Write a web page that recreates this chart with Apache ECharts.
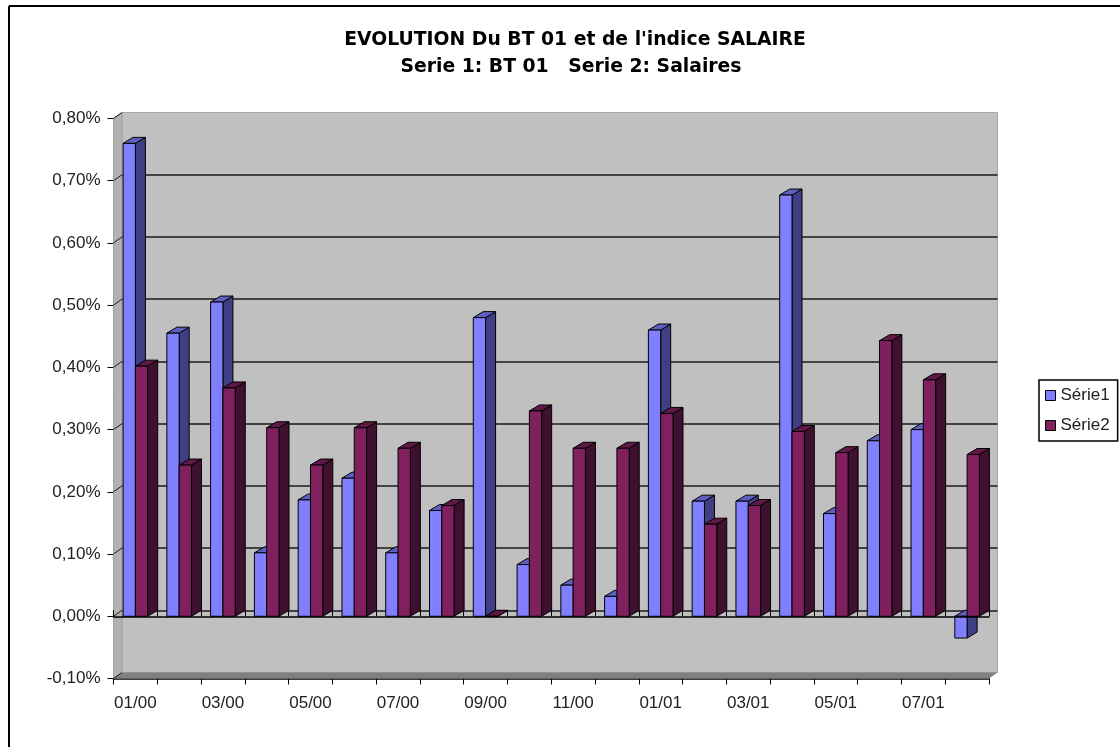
<!DOCTYPE html>
<html>
<head>
<meta charset="utf-8">
<style>
  html, body { margin: 0; padding: 0; background: #fff; }
  #chart { width: 1120px; height: 747px; }
</style>
<script src="https://cdn.jsdelivr.net/npm/echarts@6/dist/echarts.min.js"></script>
</head>
<body>
<div id="chart"></div>
<script>
const months = ['01/00', '02/00', '03/00', '04/00', '05/00', '06/00', '07/00', '08/00', '09/00', '10/00',
  '11/00', '12/00', '01/01', '02/01', '03/01', '04/01', '05/01', '06/01', '07/01', '08/01']
const serie1 = [0.76, 0.455, 0.505, 0.102, 0.187, 0.222, 0.102, 0.17, 0.48, 0.083,
  0.05, 0.032, 0.46, 0.185, 0.185, 0.677, 0.165, 0.282, 0.30, -0.035]
const serie2 = [0.402, 0.243, 0.367, 0.303, 0.243, 0.303, 0.27, 0.178, 0, 0.33,
  0.27, 0.27, 0.326, 0.148, 0.178, 0.297, 0.263, 0.443, 0.38, 0.26]
const yTicks = [-0.1, 0, 0.1, 0.2, 0.3, 0.4, 0.5, 0.6, 0.7, 0.8]

const FONT = '"Liberation Sans", Arial, sans-serif'
const TITLE_FONT = '"DejaVu Sans", "Liberation Sans", sans-serif'
const TEXT = '#222'
const wallDx = 8.5
const wallDy = -6
const barDx = 10
const barDy = -6
const barW = 12.3

const fmtPct = (v) => v.toFixed(2).replace('.', ',') + '%'

// one bar = front + side + top, all hung off the axis scales
const bar3d = (colors, side) => (params, api) => {
  const center = api.coord([api.value(0), 0])[0]
  const y0 = api.coord([api.value(0), 0])[1]
  const y1 = api.coord([api.value(0), api.value(1)])[1]
  const x0 = side < 0 ? center - barW : center
  const x1 = x0 + barW
  const top = Math.min(y0, y1)
  const bottom = Math.max(y0, y1)
  const line = { stroke: '#000', lineWidth: 1 }
  return {
    type: 'group',
    children: [
      {
        type: 'polygon',
        shape: { points: [[x1, top], [x1 + barDx, top + barDy], [x1 + barDx, bottom + barDy], [x1, bottom]] },
        style: { fill: colors.side, ...line }
      },
      {
        type: 'polygon',
        shape: { points: [[x0, top], [x0 + barDx, top + barDy], [x1 + barDx, top + barDy], [x1, top]] },
        style: { fill: colors.top, ...line }
      },
      {
        type: 'rect',
        shape: { x: x0, y: top, width: barW, height: bottom - top },
        style: { fill: colors.front, ...line }
      }
    ]
  }
}

const blue = { front: '#8080ff', side: '#3f3f86', top: '#5f5fc0' }
const maroon = { front: '#80205f', side: '#401030', top: '#5f1848' }

const chart = echarts.init(document.getElementById('chart'), null, { renderer: 'canvas' })
chart.setOption({
  animation: false,
  backgroundColor: '#fff',
  title: [
    {
      text: "EVOLUTION Du BT 01 et de l'indice SALAIRE",
      left: 570, top: 26, textAlign: 'center',
      textStyle: { fontFamily: TITLE_FONT, fontSize: 18.8, fontWeight: 'bold', color: '#000' }
    },
    {
      text: 'Serie 1: BT 01   Serie 2: Salaires',
      left: 566, top: 53, textAlign: 'center',
      textStyle: { fontFamily: TITLE_FONT, fontSize: 18.8, fontWeight: 'bold', color: '#000' }
    }
  ],
  legend: {
    data: ['Série1', 'Série2'],
    orient: 'vertical',
    left: 1039, top: 380,
    padding: [7, 8, 7, 6],
    itemGap: 13,
    itemWidth: 10, itemHeight: 10,
    icon: 'rect',
    backgroundColor: '#fff',
    borderColor: '#000',
    borderWidth: 1.5,
    itemStyle: { borderColor: '#000', borderWidth: 1 },
    textStyle: { fontFamily: FONT, fontSize: 17, color: TEXT }
  },
  grid: [
    { left: 113.5, top: 118.5, width: 875.5, height: 560 },
    // back wall of the 3d box, same scale pushed up and right
    {
      left: 113.5 + wallDx, top: 118.5 + wallDy, width: 875.5, height: 560,
      show: true, backgroundColor: '#c0c0c0', borderColor: '#a8a8a8', borderWidth: 1, z: 0
    }
  ],
  xAxis: [
    {
      type: 'category', data: months, gridIndex: 0,
      axisLine: { onZero: false, lineStyle: { color: '#000', width: 1.5 } },
      axisTick: { show: true, interval: 0, length: 6, lineStyle: { color: '#000' } },
      axisLabel: { interval: 1, margin: 16, fontFamily: FONT, fontSize: 17, color: TEXT },
      splitLine: { show: false }
    },
    {
      // second row of ticks on the zero line
      type: 'category', data: months, gridIndex: 0,
      axisLine: { onZero: true, lineStyle: { color: '#000', width: 1.5 } },
      axisTick: { show: true, interval: 0, length: 6, lineStyle: { color: '#000' } },
      axisLabel: { show: false },
      splitLine: { show: false },
      z: 6
    },
    {
      type: 'category', data: months, gridIndex: 1,
      axisLine: { show: false }, axisTick: { show: false }, axisLabel: { show: false }
    }
  ],
  yAxis: [
    {
      type: 'value', gridIndex: 0, min: -0.1, max: 0.8, interval: 0.1,
      axisLine: { show: true, onZero: false, lineStyle: { color: '#000', width: 1.5 } },
      axisTick: { show: true, length: 6, lineStyle: { color: '#000' } },
      axisLabel: { margin: 13, fontFamily: FONT, fontSize: 17, color: TEXT, formatter: fmtPct },
      splitLine: { show: false }
    },
    {
      type: 'value', gridIndex: 1, min: -0.1, max: 0.8, interval: 0.1,
      axisLine: { show: false }, axisTick: { show: false }, axisLabel: { show: false },
      splitLine: { show: true, showMinLine: false, showMaxLine: false, lineStyle: { color: '#1a1a1a', width: 1.5 } }
    }
  ],
  series: [
    {
      // left wall, floor and the small connectors from the ticks
      name: 'box',
      type: 'custom',
      xAxisIndex: 0, yAxisIndex: 0,
      z: 1,
      silent: true,
      data: yTicks.map((v) => [0, v]),
      renderItem: (params, api) => {
        const cs = params.coordSys
        const [, y] = api.coord([0, api.value(1)])
        const children = [{
          type: 'line',
          shape: { x1: cs.x, y1: y, x2: cs.x + wallDx, y2: y + wallDy },
          style: { stroke: '#1a1a1a', lineWidth: 1 },
          z2: 2
        }]
        if (params.dataIndex === 0) {
          const l = cs.x
          const t = cs.y
          const b = cs.y + cs.height
          const r = cs.x + cs.width
          children.unshift(
            {
              type: 'polygon',
              shape: { points: [[l, t], [l + wallDx, t + wallDy], [l + wallDx, b + wallDy], [l, b]] },
              style: { fill: '#b2b2b2', stroke: '#a0a0a0', lineWidth: 1 }
            },
            {
              type: 'polygon',
              shape: { points: [[l, b], [l + wallDx, b + wallDy], [r + wallDx, b + wallDy], [r, b]] },
              style: { fill: '#808080' }
            }
          )
        }
        return { type: 'group', children }
      }
    },
    {
      name: 'Série1',
      type: 'custom',
      xAxisIndex: 0, yAxisIndex: 0,
      z: 3,
      itemStyle: { color: blue.front },
      data: serie1.map((v, i) => [i, v]),
      renderItem: bar3d(blue, -1)
    },
    {
      name: 'Série2',
      type: 'custom',
      xAxisIndex: 0, yAxisIndex: 0,
      z: 4,
      itemStyle: { color: maroon.front },
      data: serie2.map((v, i) => [i, v]),
      renderItem: bar3d(maroon, 1)
    }
  ],
  graphic: [
    { type: 'line', shape: { x1: 9, y1: 6, x2: 1120, y2: 6 }, style: { stroke: '#000', lineWidth: 2 } },
    { type: 'line', shape: { x1: 9, y1: 6, x2: 9, y2: 747 }, style: { stroke: '#000', lineWidth: 2 } }
  ]
})
</script>
</body>
</html>
